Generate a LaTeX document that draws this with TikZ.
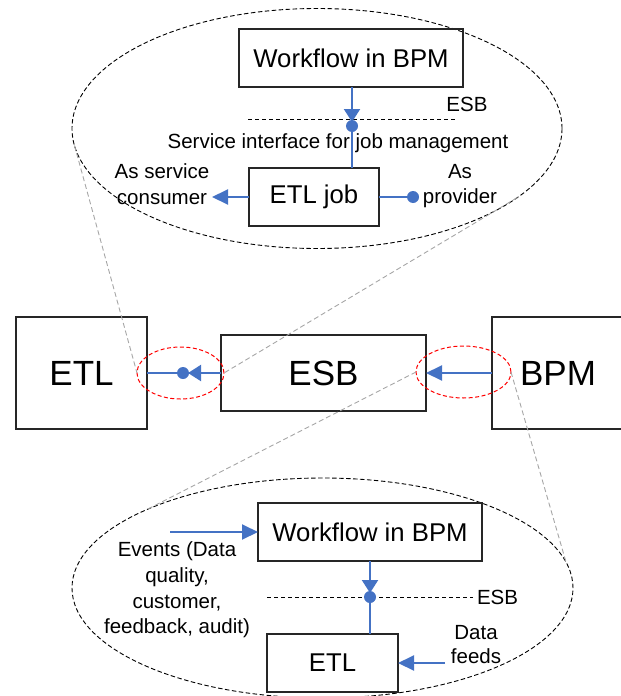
\documentclass[tikz,border=0pt]{standalone}
\usepackage{fontspec}
\setmainfont{Liberation Sans}
\usetikzlibrary{arrows.meta,shapes.geometric}
\definecolor{linkblue}{HTML}{4472C4}
\definecolor{calloutgray}{HTML}{A6A6A6}
\begin{document}
\begin{tikzpicture}[x=1pt,y=-1pt,
  box/.style={draw=black!85, line width=1.2pt, inner sep=0pt, outer sep=0pt},
  midtext/.style={font=\fontsize{25.7}{30}\selectfont},
  bigtext/.style={font=\fontsize{35}{40}\selectfont},
  lbl/.style={inner sep=0pt, outer sep=0pt, font=\fontsize{20.5}{25.7}\selectfont},
  link/.style={draw=linkblue, line width=2pt},
  tip/.style={-{Triangle[length=16pt,width=15pt]}},
  socket/.style={-{Triangle[length=13pt,width=16pt]}},
  ball/.style={circle, fill=linkblue, minimum size=12pt, inner sep=0pt, outer sep=0pt},
  zoomring/.style={ellipse, draw=black, line width=0.9pt, dash pattern=on 4.5pt off 2.5pt, inner sep=0pt, outer sep=0pt},
  hilite/.style={ellipse, draw=red, line width=1pt, dash pattern=on 4pt off 2.5pt, inner sep=0pt, outer sep=0pt},
  callout/.style={draw=calloutgray, line width=0.9pt, dash pattern=on 5pt off 3pt},
  busline/.style={draw=black, line width=0.9pt, dash pattern=on 4pt off 3pt},
]
\useasboundingbox (0,0) rectangle (621,696);

% ---------- upper detail: ETL job seen through the ESB ----------
\node[zoomring, minimum width=490pt, minimum height=240pt] (zoomA) at (317,128.5) {};
\node[box, midtext, minimum width=224pt, minimum height=58pt] (wf1) at (351,58) {Workflow in BPM};
\node[box, midtext, minimum width=130pt, minimum height=58pt] (job) at (314,197) {ETL job};

\coordinate (busAL) at (248,119);
\coordinate (busAR) at (455,119);
\draw[busline] (busAL) -- (busAR);
\node[lbl] (busAlbl) at (467,104) {ESB};

\node[ball] (d1) at (352,126) {};
\draw[link, socket, shorten >=-2pt] (wf1.south -| d1) -- (d1.north);
\draw[link] (d1) -- (d1 |- job.north);
\node[lbl] (svc) at (338,143.5) {Service interface for job management};

\coordinate (consEnd) at (212,197);
\draw[link, tip] (job.west) -- (consEnd);
\node[ball] (d2) at (413,197) {};
\draw[link] (job.east) -- (d2);
\node[lbl, align=center] (cons) at (162,184) {As service\\consumer};
\node[lbl, align=center] (prov) at (460,186) {As\\provider};

% ---------- overview: ETL -- ESB -- BPM ----------
\node[box, bigtext, minimum width=131pt, minimum height=112pt] (etl) at (81.5,373) {ETL};
\node[box, bigtext, minimum width=205pt, minimum height=76pt] (esb) at (323.5,373) {ESB};
\node[box, bigtext, minimum width=132pt, minimum height=112pt] (bpm) at (558,373) {BPM};

\node[ball] (d3) at (183,373) {};
\draw[link, socket, shorten >=-1pt] (esb.west) -- (d3.east);
\draw[link] (d3) -- (etl.east);
\draw[link, tip] (bpm.west) -- (esb.east);

\node[hilite, minimum width=87pt, minimum height=52pt] (hlL) at (180.5,373) {};
\node[hilite, minimum width=95pt, minimum height=52pt] (hlR) at (463.5,372) {};

% ---------- lower detail: BPM workflow driving ETL ----------
\node[zoomring, minimum width=501pt, minimum height=220pt] (zoomB) at (322.5,588) {};
\node[box, midtext, minimum width=224pt, minimum height=58pt] (wf2) at (370,532) {Workflow in BPM};
\node[box, midtext, minimum width=131pt, minimum height=58pt] (etl2) at (332.5,663) {ETL};

\coordinate (busBL) at (267,597);
\coordinate (busBR) at (473,597);
\draw[busline] (busBL) -- (busBR);
\node[lbl, anchor=west] (busBlbl) at (477,597) {ESB};

\node[ball] (d4) at (370,597) {};
\draw[link, socket, shorten >=-2pt] (wf2.south -| d4) -- (d4.north);
\draw[link] (d4) -- (d4 |- etl2.north);

\coordinate (evStart) at (170,532);
\draw[link, tip] (evStart) -- (wf2.west);
\node[lbl, align=center] (events) at (177,590) {Events (Data\\quality,\\customer,\\feedback, audit)};

\coordinate (dfStart) at (445,663);
\draw[link, tip] (dfStart) -- (etl2.east);
\node[lbl, align=center, font=\fontsize{20.5}{24}\selectfont] (feeds) at (476,645) {Data\\feeds};

% ---------- callout lines from highlights to details ----------
\draw[callout] (zoomA.184) -- (hlL.west);
\draw[callout] (zoomA.341) -- (hlL.east);
\draw[callout] (hlR.west) -- (zoomB.156);
\draw[callout] (hlR.east) -- (zoomB.6.5);
\end{tikzpicture}
\end{document}
